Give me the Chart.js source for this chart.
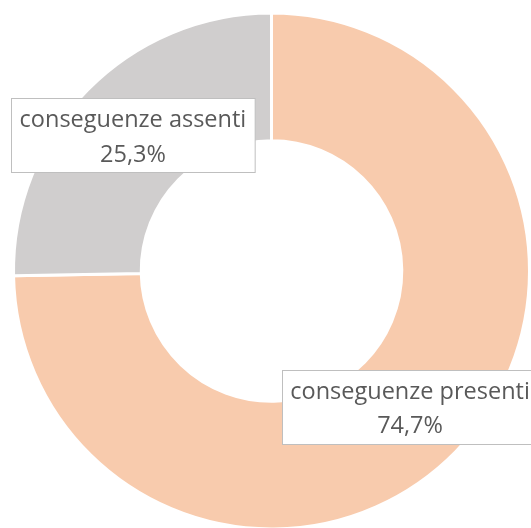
<!DOCTYPE html>
<html>
<head>
<meta charset="utf-8">
<script src="https://cdn.jsdelivr.net/npm/chart.js@4"></script>
<style>
    html, body { margin: 0; padding: 0; background: #ffffff; overflow: hidden; }
    #wrap { width: 531px; height: 531px; }
</style>
</head>
<body>
<div id="wrap"><canvas id="donutChart" width="531" height="531"></canvas></div>
<script>
// Data
const categories = ['conseguenze presenti', 'conseguenze assenti'];
const shares = [74.7, 25.3];
const shareLabels = ['74,7%', '25,3%'];
const sliceColors = ['#F8CBAD', '#D0CECE'];

// Data labels in white boxes, placed on the slice centroid
const boxLabels = {
    id: 'boxLabels',
    afterDatasetsDraw(chart) {
        const ctx = chart.ctx;
        const meta = chart.getDatasetMeta(0);
        ctx.save();
        ctx.font = '23.5px "Open Sans"';
        meta.data.forEach(function(arc, i) {
            const pos = arc.tooltipPosition();
            const w1 = ctx.measureText(categories[i]).width;
            const boxW = w1 + 17;
            const boxH = 74;
            const x0 = Math.round(pos.x - boxW / 2) + 0.5;
            const y0 = Math.round(pos.y - boxH / 2) + 0.5;
            ctx.fillStyle = '#ffffff';
            ctx.fillRect(x0, y0, boxW, boxH);
            ctx.strokeStyle = '#BFBFBF';
            ctx.lineWidth = 1;
            ctx.strokeRect(x0, y0, boxW, boxH);
            ctx.fillStyle = '#595959';
            ctx.textAlign = 'center';
            ctx.textBaseline = 'alphabetic';
            ctx.fillText(categories[i], pos.x, pos.y - 8);
            ctx.fillText(shareLabels[i], pos.x, pos.y + 26.5);
        });
        ctx.restore();
    }
};

const donutCtx = document.getElementById('donutChart').getContext('2d');
const donutChart = new Chart(donutCtx, {
    type: 'doughnut',
    data: {
        labels: categories,
        datasets: [{
            data: shares,
            backgroundColor: sliceColors,
            borderColor: '#ffffff',
            borderWidth: 3
        }]
    },
    options: {
        responsive: false,
        animation: false,
        cutout: '50.5%',
        layout: { padding: { left: 12, top: 11, right: 0, bottom: 0 } },
        plugins: {
            legend: { display: false },
            tooltip: { enabled: false }
        }
    },
    plugins: [boxLabels]
});
</script>
</body>
</html>
